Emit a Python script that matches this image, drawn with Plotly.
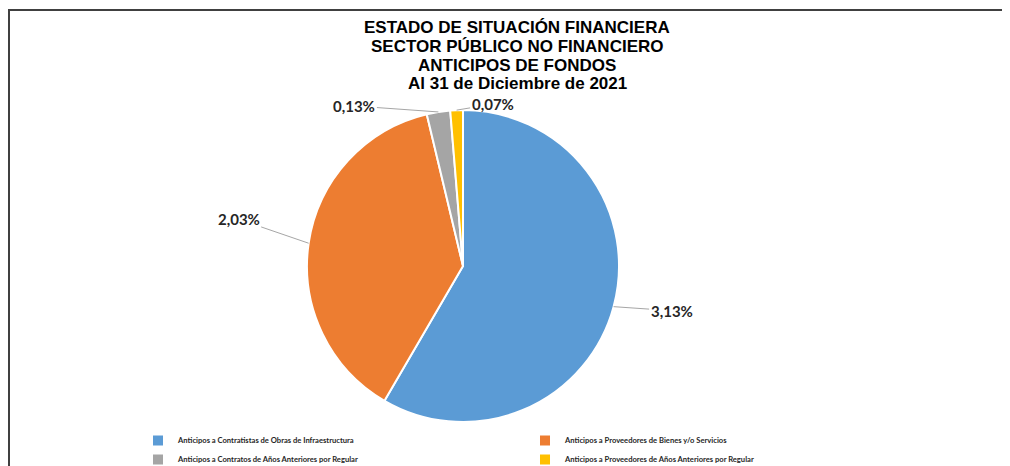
import math
import plotly.graph_objects as go

labels = [
    "Anticipos a Contratistas de Obras de Infraestructura",
    "Anticipos a Proveedores de Bienes y/o Servicios",
    "Anticipos a Contratos de Años Anteriores por Regular",
    "Anticipos a Proveedores de Años Anteriores por Regular",
]
values = [3.13, 2.03, 0.13, 0.07]
colors = ["#5B9BD5", "#ED7D31", "#A5A5A5", "#FFC000"]
title_lines = [
    "ESTADO DE SITUACIÓN FINANCIERA",
    "SECTOR PÚBLICO NO FINANCIERO",
    "ANTICIPOS DE FONDOS",
    "Al 31 de Diciembre de 2021",
]
label_offsets = [(58, 4), (-70, -24), (-84, -6), (36, -6)]

# page body has an 8px margin; figure coordinates are screen minus 8
OFF = 8
W, H = 1010 - OFF, 466 - OFF
cx, cy, r = 463 - OFF, 266 - OFF, 156

fig = go.Figure()
fig.add_trace(go.Pie(
    labels=labels, values=values, sort=False, direction="clockwise", rotation=0,
    marker=dict(colors=colors, line=dict(color="white", width=2)),
    textinfo="none", hoverinfo="label+value",
    domain=dict(x=[(cx - r) / W, (cx + r) / W], y=[1 - (cy + r) / H, 1 - (cy - r) / H]),
))

total = sum(values)
start = 0.0
for v, (ox, oy) in zip(values, label_offsets):
    span = v / total * 360
    mid = math.radians(start + span / 2)
    start += span
    px = cx + r * math.sin(mid)
    py = cy - r * math.cos(mid)
    fig.add_annotation(
        x=px / W, y=1 - py / H, xref="paper", yref="paper",
        text=f"<b>{v:.2f}%</b>".replace(".", ","),
        showarrow=True, arrowhead=0, arrowwidth=1, arrowcolor="#A6A6A6",
        ax=ox, ay=oy, font=dict(family="Lato", size=15, color="#262626"),
    )

for i, line in enumerate(title_lines):
    fig.add_annotation(
        x=(517 - OFF) / W, y=1 - (28 + 18.5 * i - OFF) / H, xref="paper", yref="paper",
        xanchor="center", yanchor="middle", showarrow=False,
        text=f"<b>{line}</b>",
        font=dict(family="Liberation Sans", size=17, color="black"),
    )

fig.add_shape(type="line", xref="paper", yref="paper", x0=0, x1=1, y0=1 - (10 - OFF) / H, y1=1 - (10 - OFF) / H,
              line=dict(color="#404040", width=2))
fig.add_shape(type="line", xref="paper", yref="paper", x0=1 / W, x1=1 / W, y0=1 - (10 - OFF) / H, y1=0,
              line=dict(color="#404040", width=2))

fig.update_layout(
    width=W, height=H, margin=dict(l=0, r=0, t=0, b=0, autoexpand=False),
    paper_bgcolor="white", plot_bgcolor="white",
    showlegend=True,
    legend=dict(
        orientation="h", x=(138 - OFF) / W, y=1 - (426 - OFF) / H, xanchor="left", yanchor="top",
        entrywidth=342, entrywidthmode="pixels",
        font=dict(family="Lato", size=7.6, color="#262626", weight=700),
        itemwidth=30, tracegroupgap=0, bgcolor="rgba(0,0,0,0)",
    ),
)

fig.write_html("out.html")
